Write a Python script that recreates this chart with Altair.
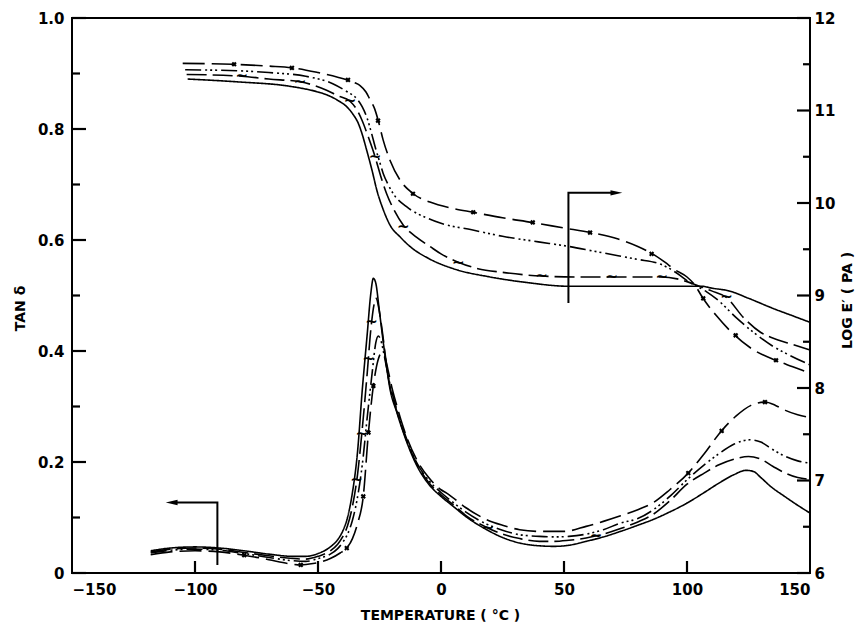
import altair as alt
import pandas as pd

# ---------------- data ----------------
SERIES = ["A", "B", "C", "D"]  # A solid, B dashed (~), C dash-dot-dot, D dashed (x)

# tan delta curves
A_T_tan = [-118,-110,-100,-90,-80,-70,-60,-55,-50,-45,-42,-40,-38,-36,-34,-32,-30,-28.5,-27.5,-26.5,
           -25,-23,-20.7,-18,-15.3,-10,-5,0,5,10,18.6,25,32,40,46,52,59,66,73,80,
           86,93,100,107,113,119,124,127,130,134,140,145,150]
A_tan = [0.040,0.045,0.047,0.045,0.040,0.034,0.030,0.030,0.035,0.047,0.060,0.075,0.100,0.145,0.215,0.330,0.430,0.505,0.531,0.522,
         0.470,0.400,0.331,0.290,0.253,0.195,0.160,0.138,0.120,0.102,0.078,0.064,0.054,0.049,0.048,0.050,0.057,0.065,0.075,0.086,
         0.096,0.110,0.126,0.145,0.162,0.177,0.185,0.183,0.172,0.156,0.137,0.122,0.108]

B_T_tan = [-118,-110,-100,-90,-80,-70,-60,-55,-50,-45,-42,-40,-38,-36,-34,-32,-30,-28.5,-27,-26.3,
           -25.5,-24,-22,-20.7,-18,-15.3,-10,-5,0,5,10,18.6,25,32,40,46,52,59,66,73,
           80,86,93,100,107,113,119,125,130,135,140,145,150]
B_tan = [0.038,0.043,0.045,0.043,0.037,0.031,0.026,0.025,0.030,0.040,0.052,0.065,0.085,0.120,0.175,0.260,0.360,0.440,0.488,0.495,
         0.482,0.440,0.370,0.335,0.292,0.255,0.198,0.163,0.141,0.123,0.104,0.082,0.070,0.062,0.057,0.057,0.059,0.063,0.070,0.080,
         0.092,0.105,0.130,0.160,0.180,0.195,0.205,0.210,0.205,0.192,0.180,0.172,0.169]

C_T_tan = [-118,-110,-100,-90,-80,-70,-60,-55,-50,-45,-42,-40,-38,-36,-34,-32,-30,-28,-26.5,-25.5,
           -24.5,-23,-21,-18,-15.3,-10,-5,0,5,10,18.6,25,32,40,46,52,59,66,73,80,
           86,93,100,107,113,119,125.6,130,135,140,145,150]
C_tan = [0.036,0.041,0.043,0.041,0.035,0.028,0.022,0.021,0.026,0.034,0.044,0.055,0.070,0.095,0.135,0.195,0.280,0.360,0.415,0.427,
         0.420,0.390,0.345,0.295,0.258,0.200,0.167,0.145,0.127,0.110,0.088,0.077,0.069,0.066,0.065,0.066,0.070,0.078,0.090,0.098,
         0.113,0.138,0.168,0.195,0.215,0.232,0.240,0.236,0.222,0.210,0.202,0.198]

D_T_tan = [-118,-110,-100,-90,-80,-70,-62,-57,-52,-48,-45,-41,-38.3,-36,-34,-31.6,-29.5,-27.5,-25.5,-24.1,
           -23,-21.5,-20,-18,-15.3,-10,-5,0,2.3,10,18.6,25,32,40,50,59,66,73,80,86,
           93,100.5,107,114,120,126,131.7,136,140,145,150]
D_tan = [0.033,0.038,0.040,0.038,0.032,0.024,0.017,0.0145,0.017,0.021,0.026,0.036,0.045,0.062,0.088,0.138,0.253,0.337,0.385,0.397,
         0.392,0.365,0.335,0.302,0.262,0.205,0.172,0.150,0.144,0.118,0.096,0.086,0.078,0.075,0.075,0.084,0.093,0.103,0.114,0.126,
         0.150,0.180,0.215,0.256,0.283,0.302,0.308,0.302,0.293,0.285,0.280]

# log E' curves
A_T_E = [-103,-83,-61,-50,-46.5,-42,-38.3,-35.8,-33.6,-32,-30.2,-28,-26.1,-23.5,-20.7,-16.5,-12.6,-5,5,20,
         35,52,70,90,106,110,117,125,135,143,150]
A_E = [11.34,11.31,11.26,11.20,11.17,11.11,11.04,10.96,10.86,10.74,10.57,10.35,10.14,9.93,9.76,9.63,9.53,9.40,9.29,9.20,
       9.14,9.10,9.10,9.10,9.10,9.08,9.05,8.97,8.86,8.78,8.71]

B_T_E = [-103.4,-81,-70,-57.3,-46.5,-42,-37,-34.5,-32.2,-29.5,-26.8,-24.5,-22.1,-19,-15.3,-10,-4.5,0,7,15,
         25,40.9,55,69.4,89.7,96,100,104,110,116,123,130,137,143,150]
B_E = [11.39,11.37,11.34,11.31,11.22,11.16,11.10,11.02,10.90,10.71,10.50,10.29,10.10,9.92,9.76,9.63,9.53,9.45,9.36,9.29,
       9.25,9.21,9.20,9.20,9.20,9.18,9.15,9.11,9.05,8.98,8.76,8.60,8.52,8.47,8.41]

C_T_E = [-104,-83,-70,-55,-44,-38,-34.3,-32,-30.2,-28.5,-26.8,-25,-23.5,-21.5,-19.4,-14,-5,0,12.5,25,
         39.6,52,62,72,80,88,93,97,100,104,108,112.6,120,127.6,135,142,150]
C_E = [11.44,11.43,11.41,11.37,11.29,11.20,11.13,11.04,10.93,10.78,10.61,10.45,10.32,10.20,10.10,9.96,9.83,9.78,9.71,9.64,
       9.58,9.53,9.48,9.43,9.39,9.35,9.29,9.22,9.16,9.10,9.04,8.95,8.76,8.59,8.45,8.35,8.25]

D_T_E = [-105,-85,-70,-60,-50,-42,-38,-35,-32.9,-30.5,-28.9,-27,-25.5,-23.5,-20.7,-16.7,-11.3,-4.5,5,13,
         25,37,50,61,72,80,86,91,95,100,103,106.5,112,119,126,136,143,150]
D_E = [11.51,11.50,11.48,11.46,11.41,11.36,11.33,11.30,11.27,11.20,11.12,11.02,10.89,10.68,10.46,10.25,10.10,10.01,9.94,9.90,
       9.84,9.79,9.73,9.68,9.61,9.53,9.45,9.36,9.28,9.20,9.12,8.97,8.78,8.58,8.43,8.30,8.23,8.16]

# point markers on the curves
D_E_mark_T = [-84.1,-60.6,-37.8,-25.6,-11.4,13.1,37.3,60.6,85.6,106.6,119.8,136.2]
D_E_mark_V = [11.50,11.46,11.33,10.89,10.10,9.90,9.79,9.68,9.45,8.97,8.57,8.30]
B_E_mark_T = [-81,-57.3,-37,-26.8,-15.3,7,40.9,69.4,89.7,116.1]
B_E_mark_V = [11.37,11.31,11.10,10.50,9.74,9.35,9.21,9.20,9.20,8.98]
D_tan_mark_T = [-80,-57,-38.3,-31.6,-29.5,-27.5,100.5,114.1,131.7]
D_tan_mark_V = [0.032,0.0145,0.045,0.138,0.253,0.337,0.180,0.256,0.308]
B_tan_mark_T = [-34.3,-32.2,-29.5,-28.2,19,63]
B_tan_mark_V = [0.168,0.25,0.385,0.452,0.081,0.067]

# axis ticks
X_TICKS = [-150,-100,-50,0,50,100,150]
TAN_MAJOR = [0,0.2,0.4,0.6,0.8,1.0]
TAN_MINOR = [0.1,0.3,0.5,0.7,0.9]
E_MAJOR = [6,7,8,9,10,11,12]
E_MINOR = [6.5,7.5,8.5,9.5,10.5,11.5]

# axis-direction arrows (path vertices in data units)
LEFT_ARROW_T = [-90.9,-90.9,-107.5]
LEFT_ARROW_V = [0.0145,0.127,0.127]
LEFT_HEAD = (-109.5, 0.127)
RIGHT_ARROW_T = [51.8,51.8,69.5]
RIGHT_ARROW_V = [8.92,10.11,10.11]
RIGHT_HEAD = (71.3, 10.11)

# ---------------- chart ----------------
W, H = 738, 555
FONT = "DejaVu Sans"
XMIN, XMAX = -150, 150
PX_T = (XMAX - XMIN) / W      # temperature units per pixel
PX_TAN = 1.0 / H               # tan-delta units per pixel

def long_df(pairs):
    rows = []
    for s, (ts, vs) in pairs.items():
        for t, v in zip(ts, vs):
            rows.append({"T": t, "v": v, "s": s})
    return pd.DataFrame(rows)

tan_df = long_df({"A": (A_T_tan, A_tan), "B": (B_T_tan, B_tan), "C": (C_T_tan, C_tan), "D": (D_T_tan, D_tan)})
e_df = long_df({"A": (A_T_E, A_E), "B": (B_T_E, B_E), "C": (C_T_E, C_E), "D": (D_T_E, D_E)})

x_scale = alt.Scale(domain=[XMIN, XMAX], nice=False, zero=False)
tan_scale = alt.Scale(domain=[0, 1], nice=False, zero=False)
e_scale = alt.Scale(domain=[6, 12], nice=False, zero=False)

X_TITLE = "TEMPERATURE  ( °C )"
T_TITLE = "TAN δ"
E_TITLE = "LOG E′  ( PA )"

x_axis = alt.Axis(values=X_TICKS, format="d", tickSize=0, domain=False, grid=False,
                  labelFont=FONT, labelFontSize=15, labelFontWeight="bold", labelColor="black",
                  labelPadding=9, title=X_TITLE, titleFont=FONT, titleFontSize=14,
                  titleFontWeight="bold", titleColor="black", titleX=368, titleY=46,
                  titleBaseline="alphabetic", titleAlign="center")
tan_axis = alt.Axis(values=TAN_MAJOR, tickSize=0, domain=False, grid=False,
                    labelExpr="datum.value == 0 ? '0' : format(datum.value, '.1f')",
                    labelFont=FONT, labelFontSize=15, labelFontWeight="bold", labelColor="black",
                    labelPadding=8, title=T_TITLE, titleFont=FONT, titleFontSize=14,
                    titleFontWeight="bold", titleColor="black", titleAngle=270,
                    titleX=-52, titleY=290, titleAlign="center", titleBaseline="middle")
e_axis = alt.Axis(orient="right", values=E_MAJOR, format="d", tickSize=0, domain=False, grid=False,
                  labelFont=FONT, labelFontSize=15, labelFontWeight="bold", labelColor="black",
                  labelPadding=4, title=E_TITLE, titleFont=FONT, titleFontSize=14,
                  titleFontWeight="bold", titleColor="black", titleAngle=270,
                  titleX=37, titleY=282, titleAlign="center", titleBaseline="middle")

X = lambda f="T": alt.X(f + ":Q", scale=x_scale, axis=x_axis, title=X_TITLE)
YT = lambda f="v": alt.Y(f + ":Q", scale=tan_scale, axis=tan_axis, title=T_TITLE)
YE = lambda f="v": alt.Y(f + ":Q", scale=e_scale, axis=e_axis, title=E_TITLE)

dash = alt.StrokeDash("s:N", legend=None,
                      scale=alt.Scale(domain=SERIES,
                                      range=[[1, 0], [20, 6], [16, 4, 2, 3, 2, 3, 2, 4], [22, 7]]))

tan_lines = alt.Chart(tan_df).mark_line(color="black", strokeWidth=1.6, interpolate="monotone").encode(
    x=X(), y=YT(), strokeDash=dash, detail="s:N")
e_lines = alt.Chart(e_df).mark_line(color="black", strokeWidth=1.6, interpolate="monotone").encode(
    x=X(), y=YE(), strokeDash=dash, detail="s:N")

def crosses(ts, vs, ycol):
    df = pd.DataFrame({"T": ts, "v": vs})
    return alt.Chart(df).mark_point(shape="cross", angle=45, filled=True, size=28, color="black",
                                    opacity=1).encode(x=X(), y=ycol())

def tildes(ts, vs, ycol):
    df = pd.DataFrame({"T": ts, "v": vs})
    return alt.Chart(df).mark_text(text="~", font=FONT, fontSize=15, fontWeight="bold",
                                   baseline="middle", align="center", color="black").encode(x=X(), y=ycol())

def side_ticks(vals, ycol, x_edge, length_px):
    sign = 1 if x_edge == XMIN else -1
    df = pd.DataFrame({"v": vals, "x0": x_edge, "x1": x_edge + sign * length_px * PX_T})
    return alt.Chart(df).mark_rule(color="black", strokeWidth=2.2).encode(
        y=ycol(), x=X("x0"), x2="x1")

bottom_df = pd.DataFrame({"T": X_TICKS[1:-1], "y0": 0.0, "y1": 12 * PX_TAN})
bottom_ticks = alt.Chart(bottom_df).mark_rule(color="black", strokeWidth=2.2).encode(
    x=X(), y=YT("y0"), y2="y1")

def arrow(ts, vs, ycol):
    df = pd.DataFrame({"T": ts, "v": vs, "i": list(range(len(ts)))})
    return alt.Chart(df).mark_line(color="black", strokeWidth=2, interpolate="linear").encode(
        x=X(), y=ycol(), order="i:Q")

def head(pt, ycol, left):
    df = pd.DataFrame({"T": [pt[0]], "v": [pt[1]]})
    path = "M -1 0 L 1 -0.45 L 1 0.45 Z" if left else "M 1 0 L -1 -0.45 L -1 0.45 Z"
    return alt.Chart(df).mark_point(shape=path, filled=True, size=140, color="black", opacity=1).encode(
        x=X(), y=ycol())

tan_layer = alt.layer(
    tan_lines,
    crosses(D_tan_mark_T, D_tan_mark_V, YT),
    tildes(B_tan_mark_T, B_tan_mark_V, YT),
    side_ticks(TAN_MAJOR, YT, XMIN, 14),
    side_ticks(TAN_MINOR, YT, XMIN, 8),
    bottom_ticks,
    arrow(LEFT_ARROW_T, LEFT_ARROW_V, YT),
    head(LEFT_HEAD, YT, True),
)

e_layer = alt.layer(
    e_lines,
    crosses(D_E_mark_T, D_E_mark_V, YE),
    tildes(B_E_mark_T, B_E_mark_V, YE),
    side_ticks(E_MAJOR, YE, XMAX, 13),
    side_ticks(E_MINOR, YE, XMAX, 7),
    arrow(RIGHT_ARROW_T, RIGHT_ARROW_V, YE),
    head(RIGHT_HEAD, YE, False),
)

chart = alt.layer(tan_layer, e_layer).resolve_scale(y="independent").properties(
    width=W, height=H,
    autosize=alt.AutoSizeParams(type="none"),
    padding={"left": 72, "top": 18, "right": 45, "bottom": 51},
    background="white",
).configure_view(stroke="black", strokeWidth=2)

chart.save("out.html", embed_options={"renderer": "svg", "actions": False})
